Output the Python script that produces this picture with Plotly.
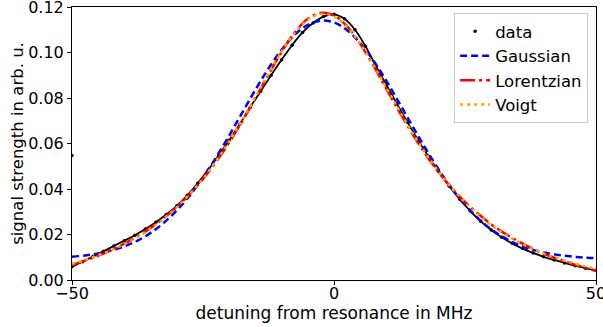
import plotly.graph_objects as go

data_x = [-50, -48, -46, -44, -42, -40, -38, -36, -34, -32, -30, -28, -26, -24, -22,
          -20, -18, -16, -14, -12, -10, -8, -6, -4, -2, 0, 2, 4, 6, 8, 10, 12, 14,
          16, 18, 20, 22, 24, 26, 28, 30, 32, 34, 36, 38, 40, 42, 44, 46, 48, 50]
data_y = [0.0058, 0.0080, 0.0103, 0.0126, 0.0150, 0.0173, 0.0197, 0.0224, 0.0254,
          0.0288, 0.0326, 0.0372, 0.0425, 0.0484, 0.0548, 0.0614, 0.0685, 0.0758,
          0.0830, 0.0900, 0.0968, 0.1032, 0.1088, 0.1130, 0.1158, 0.1168, 0.1148,
          0.1100, 0.1028, 0.0940, 0.0857, 0.0775, 0.0694, 0.0617, 0.0544, 0.0476,
          0.0412, 0.0355, 0.0303, 0.0258, 0.0220, 0.0188, 0.0161, 0.0138, 0.0119,
          0.0102, 0.0088, 0.0075, 0.0063, 0.0052, 0.0043]
outlier_x = [-50]
outlier_y = [0.0547]

# fitted curves
fit_x = [-50, -47.5, -45, -42.5, -40, -37.5, -35, -32.5, -30, -27.5, -25, -22.5, -20,
         -17.5, -15, -12.5, -10, -7.5, -5, -2.5, 0, 2.5, 5, 7.5, 10, 12.5, 15, 17.5,
         20, 22.5, 25, 27.5, 30, 32.5, 35, 37.5, 40, 42.5, 45, 47.5, 50]
gauss_y = [0.0102, 0.0108, 0.0117, 0.0130, 0.0148, 0.0173, 0.0207, 0.0251, 0.0306,
           0.0372, 0.0450, 0.0539, 0.0635, 0.0736, 0.0836, 0.0930, 0.1012, 0.1078,
           0.1121, 0.1140, 0.1132, 0.1098, 0.1041, 0.0965, 0.0875, 0.0776, 0.0675,
           0.0577, 0.0485, 0.0402, 0.0331, 0.0271, 0.0223, 0.0186, 0.0157, 0.0136,
           0.0121, 0.0111, 0.0104, 0.0099, 0.0096]
lorentz_y = [0.0066, 0.0085, 0.0107, 0.0131, 0.0160, 0.0192, 0.0229, 0.0272, 0.0322,
             0.0379, 0.0444, 0.0520, 0.0604, 0.0698, 0.0799, 0.0903, 0.1002, 0.1087,
             0.1148, 0.1174, 0.1163, 0.1115, 0.1038, 0.0943, 0.0840, 0.0738, 0.0641,
             0.0552, 0.0473, 0.0404, 0.0343, 0.0291, 0.0245, 0.0206, 0.0172, 0.0142,
             0.0116, 0.0094, 0.0074, 0.0056, 0.0040]
voigt_y = [0.0071, 0.0088, 0.0109, 0.0131, 0.0158, 0.0189, 0.0226, 0.0269, 0.0320,
           0.0378, 0.0445, 0.0523, 0.0609, 0.0704, 0.0805, 0.0907, 0.1004, 0.1086,
           0.1144, 0.1169, 0.1158, 0.1112, 0.1038, 0.0946, 0.0845, 0.0744, 0.0646,
           0.0556, 0.0475, 0.0404, 0.0341, 0.0288, 0.0242, 0.0203, 0.0170, 0.0141,
           0.0117, 0.0097, 0.0079, 0.0062, 0.0049]

x_ticks = [-50, 0, 50]
y_ticks = [0.00, 0.02, 0.04, 0.06, 0.08, 0.10, 0.12]

FONT = "DejaVu Sans"

fig = go.Figure()
# data band (connecting the measured points)
fig.add_trace(go.Scatter(x=data_x, y=data_y, mode="lines", line=dict(color="black", width=1.8),
                         line_shape="spline", showlegend=False, hoverinfo="skip"))
fig.add_trace(go.Scatter(x=outlier_x + data_x, y=outlier_y + data_y, mode="markers",
                         marker=dict(color="black", size=3.5), name="data"))
fig.add_trace(go.Scatter(x=fit_x, y=gauss_y, mode="lines", name="Gaussian", line_shape="spline",
                         line=dict(color="#0000ff", width=2.5, dash="7px,4px")))
fig.add_trace(go.Scatter(x=fit_x, y=lorentz_y, mode="lines", name="Lorentzian", line_shape="spline",
                         line=dict(color="#ff0000", width=2.5, dash="15px,4px,3px,4px")))
fig.add_trace(go.Scatter(x=fit_x, y=voigt_y, mode="lines", name="Voigt", line_shape="spline",
                         line=dict(color="#ffa500", width=2.5, dash="3px,4px")))

axis_common = dict(showline=True, linecolor="black", linewidth=1, mirror=True,
                   ticks="outside", ticklen=4, tickcolor="black", showgrid=False,
                   zeroline=False, ticklabeloverflow="allow",
                   tickfont=dict(family=FONT, size=16, color="black"))

fig.update_xaxes(range=[-50, 50], tickvals=x_ticks, ticklabelstandoff=-5,
                 title=dict(text="detuning from resonance in MHz", standoff=4,
                            font=dict(family=FONT, size=17, color="black")), **axis_common)
fig.update_yaxes(range=[0, 0.12], tickvals=y_ticks, tickformat=".2f",
                 title=dict(text="signal strength in arb. u.", standoff=0,
                            font=dict(family=FONT, size=16.5, color="black")), **axis_common)

fig.update_layout(
    width=603, height=327,
    margin=dict(l=72, r=7, t=7, b=47, autoexpand=False),
    paper_bgcolor="white", plot_bgcolor="white",
    font=dict(family=FONT, size=16, color="black"),
    legend=dict(x=0.985, y=0.978, xanchor="right", yanchor="top",
                bgcolor="rgba(255,255,255,0.8)", bordercolor="#cccccc", borderwidth=1,
                font=dict(family=FONT, size=16.5, color="black"), tracegroupgap=0),
)

fig.write_html("out.html")
